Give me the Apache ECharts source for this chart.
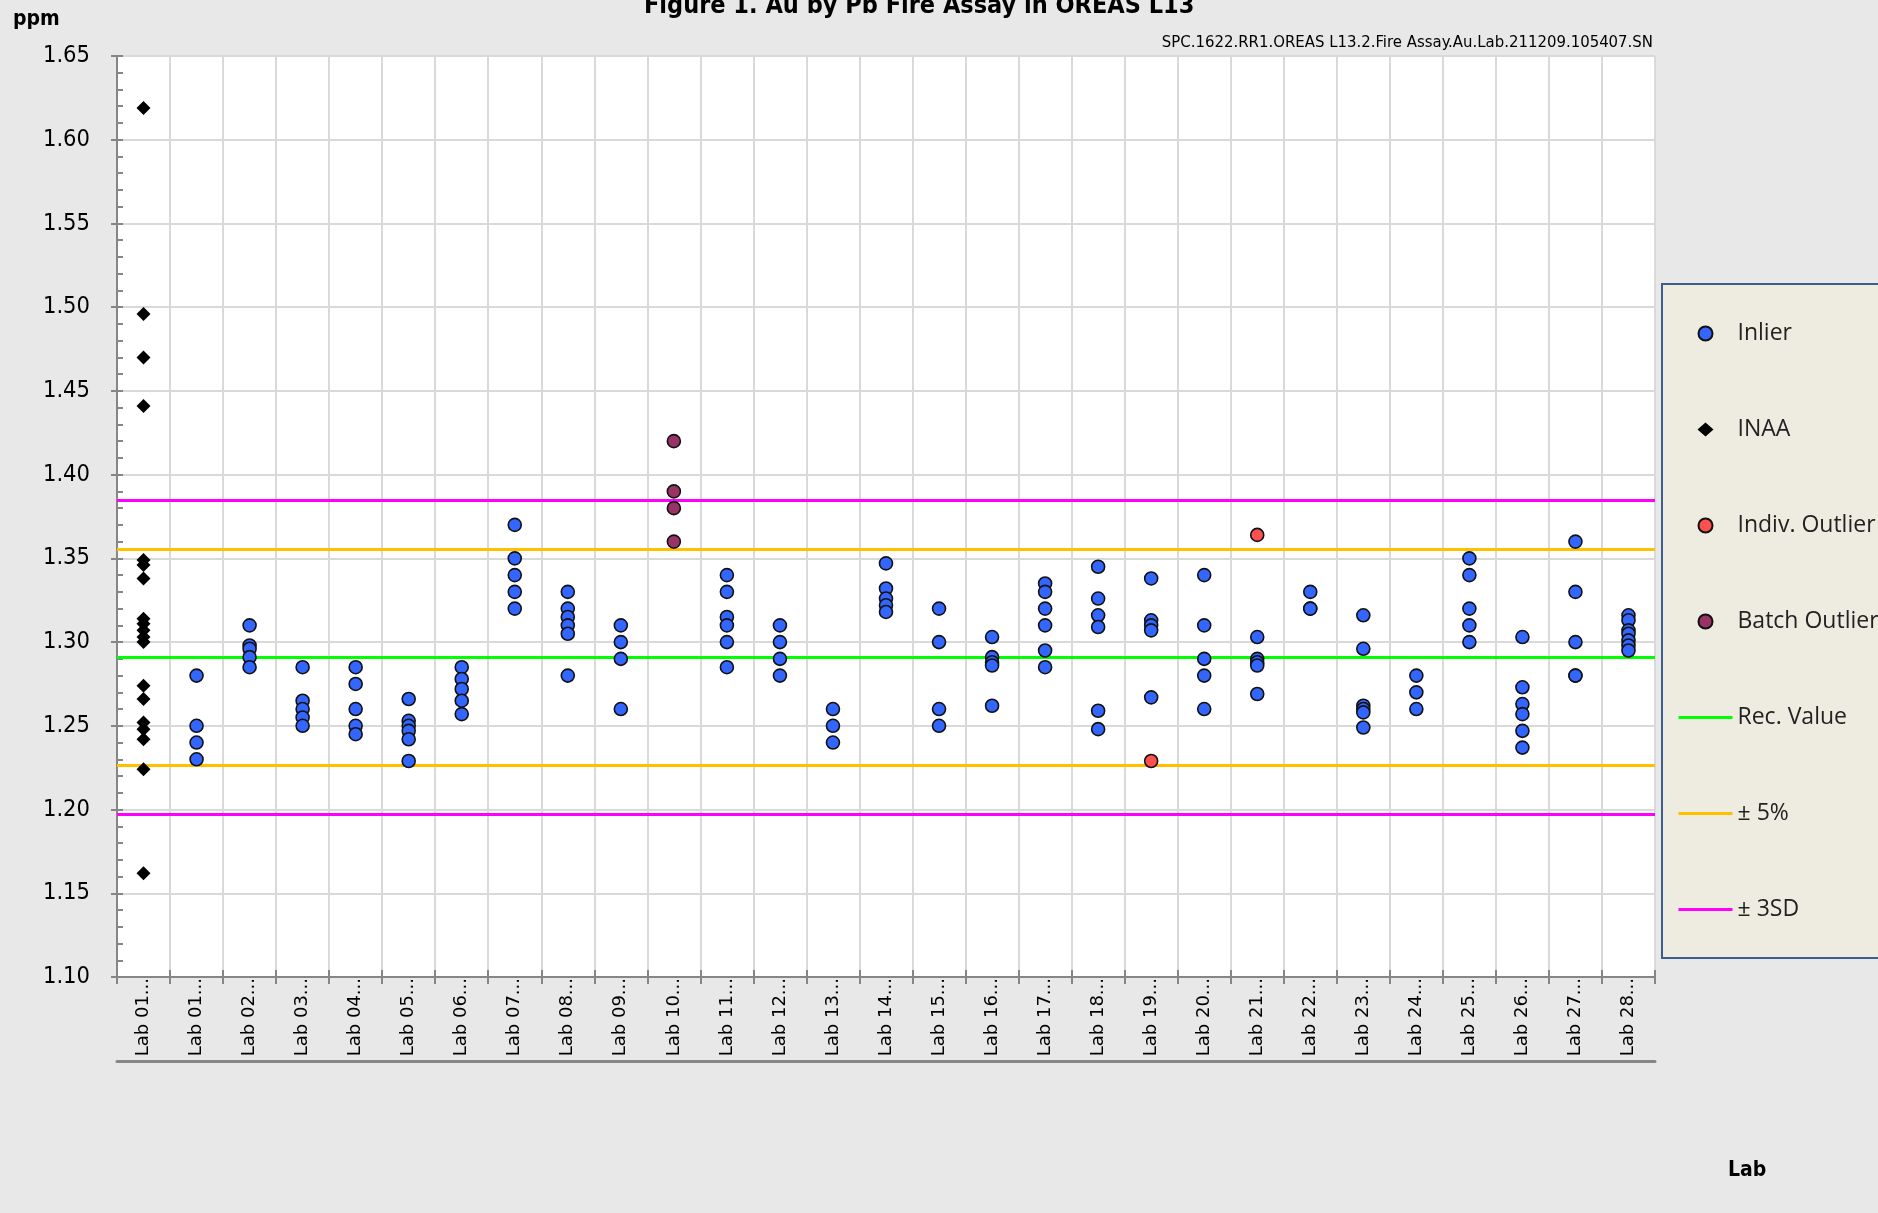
<!DOCTYPE html>
<html><head><meta charset="utf-8">
<script src="https://cdn.jsdelivr.net/npm/echarts@6/dist/echarts.min.js"></script>
<style>html,body{margin:0;padding:0;background:#e8e8e8}#c{width:1878px;height:1213px}</style>
</head><body><div id="c"></div><script>
// ---- data ----
const categories = ['Lab 01','Lab 01','Lab 02','Lab 03','Lab 04','Lab 05','Lab 06','Lab 07','Lab 08','Lab 09','Lab 10',
  'Lab 11','Lab 12','Lab 13','Lab 14','Lab 15','Lab 16','Lab 17','Lab 18','Lab 19','Lab 20',
  'Lab 21','Lab 22','Lab 23','Lab 24','Lab 25','Lab 26','Lab 27','Lab 28'];
const yMin = 1.10, yMax = 1.65, yStep = 0.05;

const inaaValues = [1.619,1.496,1.470,1.441,1.349,1.346,1.338,1.314,1.311,1.307,1.303,1.300,
  1.274,1.266,1.252,1.248,1.242,1.224,1.162];

const lab01 = [1.28,1.25,1.24,1.23];
const lab02 = [1.31,1.298,1.296,1.291,1.285];
const lab03 = [1.285,1.265,1.26,1.255,1.25];
const lab04 = [1.285,1.275,1.26,1.25,1.245];
const lab05 = [1.266,1.253,1.25,1.247,1.242,1.229];
const lab06 = [1.285,1.278,1.272,1.265,1.257];
const lab07 = [1.37,1.35,1.34,1.33,1.32];
const lab08 = [1.33,1.32,1.315,1.31,1.305,1.28];
const lab09 = [1.31,1.30,1.29,1.26];
const lab10 = [];
const lab11 = [1.34,1.33,1.315,1.31,1.30,1.285];
const lab12 = [1.31,1.30,1.29,1.28];
const lab13 = [1.26,1.25,1.24];
const lab14 = [1.347,1.332,1.326,1.322,1.318];
const lab15 = [1.32,1.30,1.26,1.25];
const lab16 = [1.303,1.291,1.288,1.286,1.262];
const lab17 = [1.335,1.33,1.32,1.31,1.295,1.285];
const lab18 = [1.345,1.326,1.316,1.309,1.259,1.248];
const lab19 = [1.338,1.313,1.310,1.307,1.267];
const lab20 = [1.34,1.31,1.29,1.28,1.26];
const lab21 = [1.303,1.29,1.288,1.286,1.269];
const lab22 = [1.33,1.32,1.32];
const lab23 = [1.316,1.296,1.262,1.260,1.258,1.249];
const lab24 = [1.28,1.27,1.26];
const lab25 = [1.35,1.34,1.32,1.31,1.30];
const lab26 = [1.303,1.273,1.263,1.257,1.247,1.237];
const lab27 = [1.36,1.33,1.30,1.28,1.28];
const lab28 = [1.316,1.313,1.307,1.305,1.301,1.298,1.295];
const inlierValues = [[],lab01,lab02,lab03,lab04,lab05,lab06,lab07,lab08,lab09,lab10,lab11,lab12,lab13,lab14,
  lab15,lab16,lab17,lab18,lab19,lab20,lab21,lab22,lab23,lab24,lab25,lab26,lab27,lab28];

const indivOutlierLabs = ['Lab 19','Lab 21'];
const indivOutlierValues = [1.229,1.364];
const batchOutlierLab = 'Lab 10';
const batchOutlierValues = [1.42,1.39,1.38,1.36];

const recValue = 1.291;
const pct5 = [1.2265,1.3556];
const sd3 = [1.1972,1.3848];

// ---- build ----
const catIdx = name => categories.indexOf(name, 1);
const inlierData = [];
inlierValues.forEach((arr,i)=>arr.forEach(v=>inlierData.push([i,v])));
const inaaData = inaaValues.map(v=>[0,v]);
const indivData = indivOutlierValues.map((v,i)=>[catIdx(indivOutlierLabs[i]),v]);
const batchData = batchOutlierValues.map(v=>[catIdx(batchOutlierLab),v]);

const narrow = "'Liberation Sans Narrow','DejaVu Sans Condensed','Liberation Sans',sans-serif";
const gridCol = '#d9d9d9', axisCol = '#868686';

function hline(name, color, vals){
  return {name, type:'line', data:[], symbol:'none', z:3,
    lineStyle:{color, width:3}, itemStyle:{color},
    markLine:{silent:true, symbol:'none', precision:5, label:{show:false},
      lineStyle:{color, width:3, type:'solid'},
      data: vals.map(v=>({yAxis:v}))}};
}
const hideSym = {color:'transparent', borderColor:'transparent', borderWidth:0, opacity:0};
// diamond centred in a 54x14 box (tiny corner sub-paths fix the box size)
const diamondIcon = 'path://M0,0L0.01,0L0.01,0.01Z M54,14L53.99,14L53.99,13.99Z M27,0L35,7L27,14L19,7Z';

const chart = echarts.init(document.getElementById('c'), null, {renderer:'canvas'});
chart.setOption({
  backgroundColor:'#e8e8e8',
  animation:false,
  title:[
    {text:'Figure 1. Au by Pb Fire Assay in OREAS L13', left:644, top:-6, padding:0,
      textStyle:{fontFamily:narrow, fontWeight:'bold', fontSize:25, color:'#000'}},
    {text:'ppm', left:13, top:9, padding:0,
      textStyle:{fontFamily:narrow, fontWeight:'bold', fontSize:21, color:'#000'}},
    {text:'SPC.1622.RR1.OREAS L13.2.Fire Assay.Au.Lab.211209.105407.SN', right:225, top:34, padding:0,
      textStyle:{fontFamily:narrow, fontWeight:'normal', fontSize:16.6, color:'#000'}},
    {text:'Lab', left:1728, top:1160, padding:0,
      textStyle:{fontFamily:narrow, fontWeight:'bold', fontSize:21, color:'#000'}}
  ],
  legend:{
    orient:'vertical', left:1662, top:284,
    backgroundColor:'#EEECE1', borderColor:'#3B5E8C', borderWidth:2, borderRadius:0,
    padding:[38,140,37,15], itemWidth:54, itemHeight:14, itemGap:73,
    selectedMode:false,
    textStyle:{fontFamily:"'Open Sans',sans-serif", fontSize:23, lineHeight:23, color:'#222'},
    data:['Inlier',
      {name:'INAA', icon:diamondIcon, itemStyle:{color:'#000', borderWidth:0}},
      'Indiv. Outlier','Batch Outlier',
      {name:'Rec. Value', itemStyle:hideSym, lineStyle:{width:3}},
      {name:'± 5%', itemStyle:hideSym, lineStyle:{width:3}},
      {name:'± 3SD', itemStyle:hideSym, lineStyle:{width:3}}]
  },
  grid:{left:117, right:223, top:56, bottom:236, show:true, backgroundColor:'#ffffff', borderWidth:0},
  xAxis:[
    {type:'category', data:categories, boundaryGap:true,
      axisLine:{show:true, lineStyle:{color:axisCol, width:2}},
      axisTick:{show:true, inside:true, length:7, lineStyle:{color:axisCol, width:2}},
      axisLabel:{show:true, rotate:90, margin:1, interval:0, formatter:v=>v+'...',
        fontFamily:"'DejaVu Sans',sans-serif", fontSize:18, color:'#000'},
      splitLine:{show:true, lineStyle:{color:gridCol, width:2}}},
    {type:'category', data:categories, position:'bottom', offset:84,
      axisLine:{show:true, lineStyle:{color:axisCol, width:3}},
      axisTick:{show:false}, axisLabel:{show:false}, splitLine:{show:false}},
    {type:'category', data:categories, position:'bottom', offset:0,
      axisLine:{show:false},
      axisTick:{show:true, inside:false, length:7, lineStyle:{color:axisCol, width:2}},
      axisLabel:{show:false}, splitLine:{show:false}}
  ],
  yAxis:[
    {type:'value', min:yMin, max:yMax, interval:yStep,
      axisLine:{show:true, lineStyle:{color:axisCol, width:2}},
      axisTick:{show:true, inside:true, length:6, lineStyle:{color:axisCol, width:2}},
      minorTick:{show:true, splitNumber:5, length:6, lineStyle:{color:axisCol, width:2}},
      axisLabel:{margin:27, formatter:v=>v.toFixed(2), fontFamily:narrow, fontSize:23.5, color:'#000'},
      splitLine:{show:true, lineStyle:{color:gridCol, width:2}}},
    {type:'value', min:yMin, max:yMax, interval:yStep, position:'left',
      axisLine:{show:false},
      axisTick:{show:true, inside:false, length:6, lineStyle:{color:axisCol, width:2}},
      axisLabel:{show:false}, splitLine:{show:false}}
  ],
  series:[
    {name:'Inlier', type:'scatter', data:inlierData, symbol:'circle', symbolSize:13, z:5,
      itemStyle:{color:'#3366FF', borderColor:'#111', borderWidth:1.6, opacity:1}},
    {name:'INAA', type:'scatter', data:inaaData, symbol:'diamond', symbolSize:14, z:5,
      itemStyle:{color:'#000', borderColor:'#000', borderWidth:0, opacity:1}},
    {name:'Indiv. Outlier', type:'scatter', data:indivData, symbol:'circle', symbolSize:13, z:5,
      itemStyle:{color:'#FF5050', borderColor:'#111', borderWidth:1.6, opacity:1}},
    {name:'Batch Outlier', type:'scatter', data:batchData, symbol:'circle', symbolSize:13, z:5,
      itemStyle:{color:'#993366', borderColor:'#111', borderWidth:1.6, opacity:1}},
    hline('Rec. Value', '#00FF00', [recValue]),
    hline('± 5%', '#FFC000', pct5),
    hline('± 3SD', '#FF00FF', sd3)
  ]
});
</script></body></html>
